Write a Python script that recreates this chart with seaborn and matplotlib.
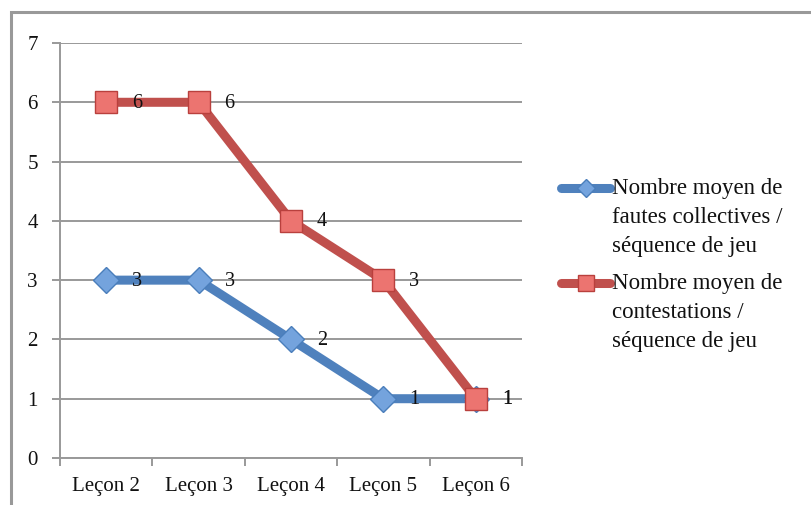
import pandas as pd
import matplotlib.pyplot as plt
import seaborn as sns
from matplotlib.lines import Line2D
from matplotlib.patches import Rectangle

lecons = ["Leçon 2", "Leçon 3", "Leçon 4", "Leçon 5", "Leçon 6"]
fautes = [3, 3, 2, 1, 1]
contestations = [6, 6, 4, 3, 1]
label_fautes = "Nombre moyen de\nfautes collectives /\nséquence de jeu"
label_contest = "Nombre moyen de\ncontestations /\nséquence de jeu"

sns.set_theme(style="white")
plt.rcParams['font.family'] = ['Liberation Serif', 'DejaVu Serif']

df = pd.DataFrame({"lecon": lecons, "fautes": fautes, "contestations": contestations})

fig = plt.figure(figsize=(8.11, 5.05), dpi=100)
ax = fig.add_axes([60 / 811, 1 - 458 / 505, 462 / 811, 415 / 505])

blue, blue_fill = "#4F81BD", "#74A3DD"
red, red_fill = "#C0504D", "#EC7470"

sns.lineplot(data=df, x="lecon", y="fautes", ax=ax, color=blue, lw=6.5,
             marker="D", markersize=13, markerfacecolor=blue_fill,
             markeredgecolor="#4A7EBB", markeredgewidth=1, sort=False)
sns.lineplot(data=df, x="lecon", y="contestations", ax=ax, color=red, lw=6.5,
             marker="s", markersize=16, markerfacecolor=red_fill,
             markeredgecolor="#B9403D", markeredgewidth=1, sort=False)

# data labels to the right of points
for i, (f, c) in enumerate(zip(fautes, contestations)):
    ax.annotate(str(f), (i, f), xytext=(26, -1), textcoords="offset pixels",
                va="center", ha="left", fontsize=14.5, color="#111111")
    ax.annotate(str(c), (i, c), xytext=(26, -1), textcoords="offset pixels",
                va="center", ha="left", fontsize=14.5, color="#111111")

ax.set_xlim(-0.5, 4.5)
ax.set_ylim(0, 7)
ax.set_yticks(range(0, 8))
ax.set_xticks(range(5))
ax.set_xticklabels(lecons)
ax.set_xticks([x - 0.5 for x in range(6)], minor=True)
ax.set_xlabel("")
ax.set_ylabel("")
ax.yaxis.grid(True, color="#999999", lw=1.4)
ax.set_axisbelow(True)
for s in ["top", "right"]:
    ax.spines[s].set_visible(False)
for s in ["left", "bottom"]:
    ax.spines[s].set_color("#999999")
    ax.spines[s].set_linewidth(1.4)
ax.tick_params(axis="y", which="major", length=6, width=1.4, color="#999999",
               labelsize=15, pad=10, left=True)
ax.tick_params(axis="x", which="major", length=0, labelsize=15, pad=14)
ax.tick_params(axis="x", which="minor", length=6, width=1.4, color="#999999",
               bottom=True)
for lab in ax.get_xticklabels() + ax.get_yticklabels():
    lab.set_color("#111111")

# outer chart frame
fig.add_artist(Rectangle((11 / 811, -0.1), 1.2, 1 - 12 / 505 + 0.1,
                         transform=fig.transFigure, fill=False,
                         edgecolor="#999999", lw=2.2))

# legend drawn at the right
def legend_entry(y_px, color, fill, edge, marker, ms, text):
    y = 1 - y_px / 505
    fig.add_artist(Line2D([561 / 811, 610 / 811], [y, y], transform=fig.transFigure,
                          color=color, lw=6.5, solid_capstyle="round"))
    fig.add_artist(Line2D([585.5 / 811], [y], transform=fig.transFigure,
                          marker=marker, markersize=ms, markerfacecolor=fill,
                          markeredgecolor=edge, markeredgewidth=1, lw=0))
    fig.text(612 / 811, y + 10 / 505, text, va="top", ha="left", fontsize=16.5,
             linespacing=1.5, color="#111111")

legend_entry(188, blue, blue_fill, "#4A7EBB", "D", 9, label_fautes)
legend_entry(283, red, red_fill, "#B9403D", "s", 11, label_contest)

plt.savefig("out.png", dpi=100)
